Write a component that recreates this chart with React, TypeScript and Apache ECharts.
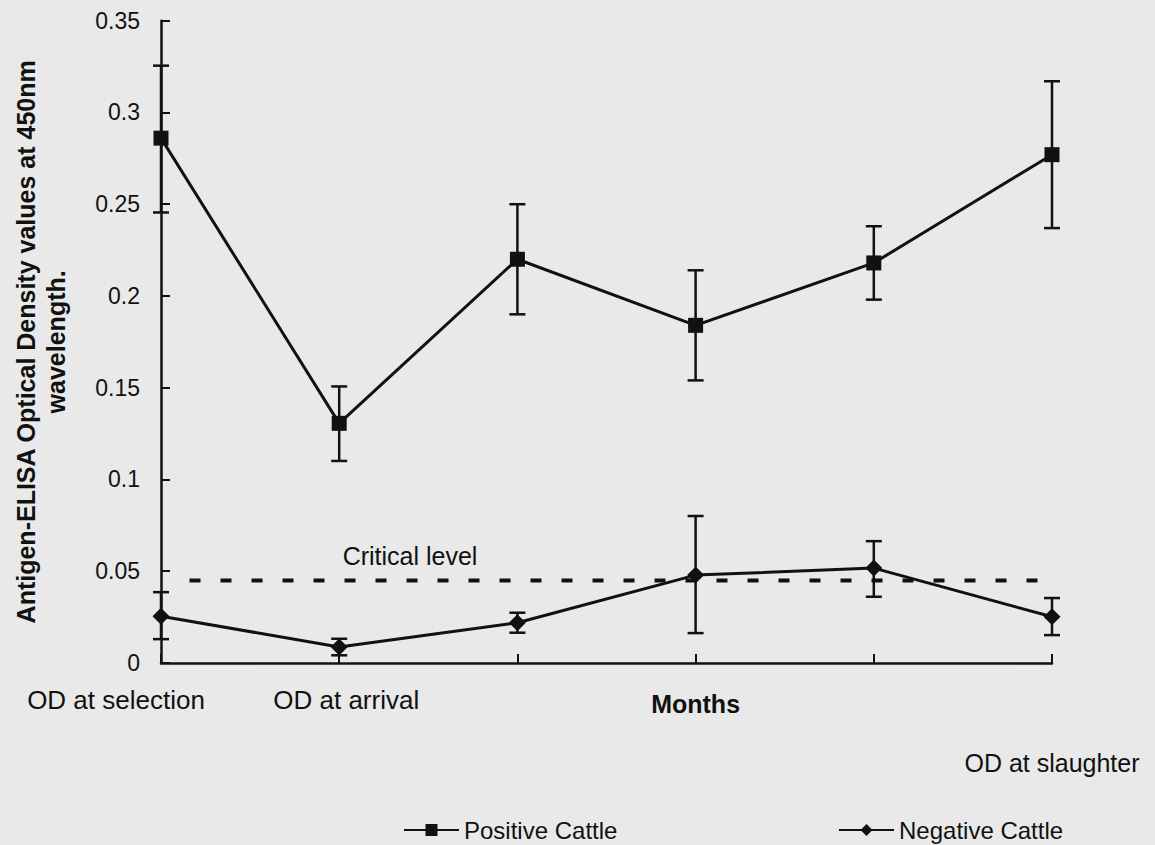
import React, { useEffect, useRef } from "react";
import * as echarts from "echarts";

const categories = ["OD at selection", "OD at arrival", "", "Months", "", "OD at slaughter"];
const positiveCattle = [0.286, 0.1306, 0.22, 0.184, 0.218, 0.277];
const positiveLow = [0.2455, 0.1101, 0.19, 0.154, 0.198, 0.237];
const positiveHigh = [0.3255, 0.1507, 0.25, 0.214, 0.238, 0.317];
const negativeCattle = [0.0255, 0.0087, 0.0219, 0.0479, 0.0517, 0.0252];
const negativeLow = [0.013, 0.0042, 0.0165, 0.0163, 0.0361, 0.0152];
const negativeHigh = [0.0386, 0.0132, 0.0274, 0.0801, 0.0664, 0.0354];
const criticalLevel = 0.045;
const criticalSpan = [0.16, 4.92];

const FONT = 'Arial, "Liberation Sans", Helvetica, sans-serif';
const INK = "#111111";

function errorSeries(low: number[], high: number[]) {
  return {
    type: "custom",
    z: 1,
    silent: true,
    data: categories.map((_, i) => [i, low[i], high[i]]),
    encode: { x: 0, y: [1, 2] },
    renderItem: (_params: any, api: any) => {
      const x = api.value(0);
      const lo = api.coord([x, api.value(1)]);
      const hi = api.coord([x, api.value(2)]);
      const hw = 8;
      const st = { stroke: INK, lineWidth: 2.5 };
      return {
        type: "group",
        children: [
          { type: "line", shape: { x1: lo[0], y1: lo[1], x2: hi[0], y2: hi[1] }, style: st },
          { type: "line", shape: { x1: lo[0] - hw, y1: lo[1], x2: lo[0] + hw, y2: lo[1] }, style: st },
          { type: "line", shape: { x1: hi[0] - hw, y1: hi[1], x2: hi[0] + hw, y2: hi[1] }, style: st },
        ],
      };
    },
  };
}

export default function App() {
  const ref = useRef<HTMLDivElement>(null);
  useEffect(() => {
    if (!ref.current) return;
    const chart = echarts.init(ref.current, null, { renderer: "svg" });
    chart.setOption({
      animation: false,
      backgroundColor: "#e9e9e9",
      textStyle: { fontFamily: FONT, color: INK },
      grid: { left: 161, right: 103, top: 20.7, bottom: 182 },
      legend: [
        {
          data: ["Positive Cattle"],
          left: 398,
          top: 813,
          itemWidth: 55,
          itemHeight: 15,
          itemGap: 8,
          textStyle: { fontSize: 24, fontFamily: FONT, color: INK },
        },
        {
          data: ["Negative Cattle"],
          left: 833,
          top: 813,
          itemWidth: 55,
          itemHeight: 15,
          textStyle: { fontSize: 24, fontFamily: FONT, color: INK },
        },
      ],
      xAxis: [
        {
          type: "category",
          data: categories,
          boundaryGap: false,
          axisLine: { lineStyle: { color: INK, width: 2.5 } },
          axisTick: { inside: true, length: 9, lineStyle: { color: INK, width: 2 } },
          axisLabel: {
            interval: 0,
            margin: 23,
            color: INK,
            formatter: (v: string, i: number) => {
              if (i === 0) return `{first|${v}}`;
              if (i === 1) return `{second|${v}}`;
              if (i === 3) return `{bold|${v}}`;
              if (i === 5) return `{last|${v}}`;
              return v;
            },
            rich: {
              first: { fontSize: 26, fontFamily: FONT, color: INK, lineHeight: 28, padding: [0, 90, 0, 0] },
              second: { fontSize: 26, fontFamily: FONT, color: INK, lineHeight: 28, padding: [0, 0, 0, 14] },
              bold: { fontSize: 25, fontFamily: FONT, fontWeight: "bold", color: INK, lineHeight: 28, padding: [8, 0, 0, 0] },
              last: { fontSize: 25, fontFamily: FONT, color: INK, lineHeight: 28, padding: [126, 0, 0, 0] },
            },
          },
          splitLine: { show: false },
        },
        {
          type: "value",
          min: 0,
          max: 5,
          show: false,
        },
      ],
      yAxis: {
        type: "value",
        min: 0,
        max: 0.35,
        interval: 0.05,
        name: "Antigen-ELISA Optical Density values at 450nm\nwavelength.",
        nameLocation: "middle",
        nameRotate: 90,
        nameGap: 90,
        nameTextStyle: { fontSize: 25, fontWeight: "bold", fontFamily: FONT, color: INK, lineHeight: 30, align: "center" },
        axisLine: { show: true, lineStyle: { color: INK, width: 2.5 } },
        axisTick: { show: true, inside: true, length: 9, lineStyle: { color: INK, width: 2 } },
        axisLabel: { fontSize: 23, margin: 21, color: INK, fontFamily: FONT },
        splitLine: { show: false },
      },
      graphic: [
        {
          type: "text",
          x: 410,
          y: 556,
          style: { text: "Critical level", font: `25px ${FONT}`, fill: INK, align: "center", verticalAlign: "middle" },
        },
      ],
      series: [
        errorSeries(positiveLow, positiveHigh),
        errorSeries(negativeLow, negativeHigh),
        {
          name: "Critical level",
          type: "line",
          xAxisIndex: 1,
          data: criticalSpan.map((x) => [x, criticalLevel]),
          symbol: "none",
          silent: true,
          lineStyle: { color: INK, width: 4, type: [11, 20] },
          z: 0,
        },
        {
          name: "Positive Cattle",
          type: "line",
          data: positiveCattle,
          symbol: "rect",
          symbolSize: 15,
          showAllSymbol: true,
          itemStyle: { color: INK },
          lineStyle: { color: INK, width: 3 },
          z: 3,
        },
        {
          name: "Negative Cattle",
          type: "line",
          data: negativeCattle,
          symbol: "diamond",
          symbolSize: 17,
          showAllSymbol: true,
          itemStyle: { color: INK },
          lineStyle: { color: INK, width: 3 },
          z: 3,
        },
      ],
    });
    return () => chart.dispose();
  }, []);
  return (
    <div
      ref={ref}
      style={{ position: "fixed", left: 0, top: 0, width: 1155, height: 845 }}
    />
  );
}
